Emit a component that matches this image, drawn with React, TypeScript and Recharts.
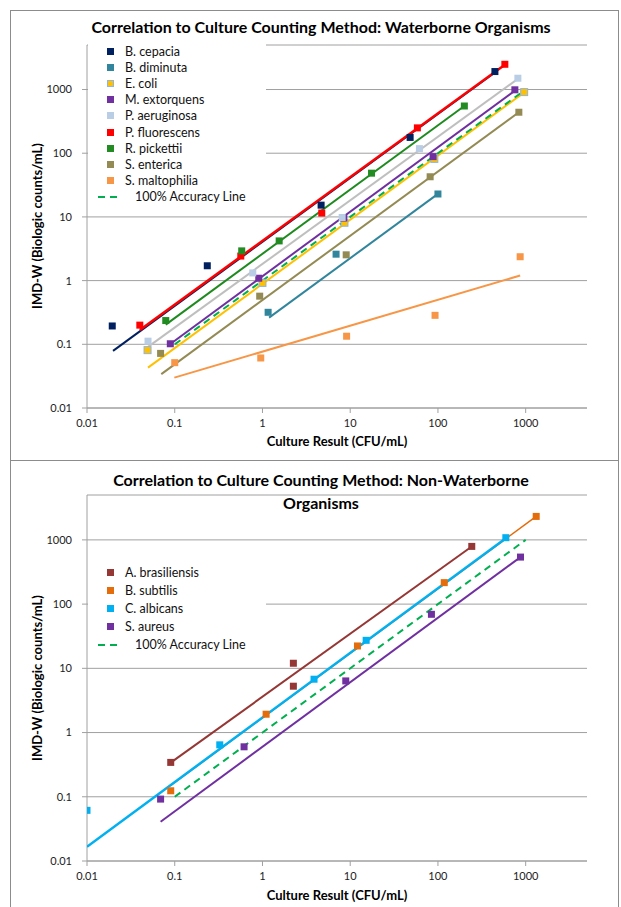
import React from 'react';
import { ScatterChart, Scatter, XAxis, YAxis, CartesianGrid, Legend } from 'recharts';

const xTicks = [0.01, 0.1, 1, 10, 100, 1000];
const yTicks = [0.01, 0.1, 1, 10, 100, 1000];

// Waterborne organisms: [culture CFU/mL, IMD-W counts/mL]
const bCepacia = [[0.0194, 0.194], [0.235, 1.71], [4.66, 15.3], [48.2, 177], [446, 1915]];
const bDiminuta = [[1.16, 0.318], [6.9, 2.6], [100, 22.9]];
const eColi = [[0.049, 0.081], [1.0, 0.92], [8.6, 8.1], [91, 81.5], [961, 911]];
const mExtorquens = [[0.089, 0.102], [0.907, 1.09], [8.45, 9.6], [88, 88.5], [753, 990]];
const pAeruginosa = [[0.0496, 0.112], [0.775, 1.32], [8.1, 9.8], [61.5, 118], [815, 1505]];
const pFluorescens = [[0.04, 0.2], [0.566, 2.43], [4.74, 11.5], [58.3, 250], [579, 2490]];
const rPickettii = [[0.079, 0.236], [0.58, 2.93], [1.55, 4.2], [17.5, 48.6], [200, 551]];
const sEnterica = [[0.069, 0.072], [0.93, 0.57], [9.0, 2.54], [81.5, 42.7], [836, 440]];
const sMaltophilia = [[0.1, 0.0515], [0.956, 0.061], [9.1, 0.134], [92.7, 0.285], [865, 2.37]];

// trendline ends as drawn in the source
const bCepaciaTrend = [[0.0198, 0.079], [446, 1850]];
const bDiminutaTrend = [[1.19, 0.262], [100, 23]];
const eColiTrend = [[0.0496, 0.043], [961, 900]];
const mExtorquensTrend = [[0.094, 0.107], [753, 960]];
const pAeruginosaTrend = [[0.0496, 0.091], [815, 1470]];
const pFluorescensTrend = [[0.04, 0.168], [579, 2450]];
const rPickettiiTrend = [[0.079, 0.204], [200, 551]];
const sEntericaTrend = [[0.0703, 0.034], [836, 440]];
const sMaltophiliaTrend = [[0.099, 0.03], [865, 1.2]];

// Non-waterborne organisms
const aBrasiliensis = [[0.09, 0.343], [2.25, 12.0], [2.25, 5.27], [243, 792]];
const bSubtilis = [[0.09, 0.124], [1.1, 1.93], [12.1, 22.3], [118, 216], [1318, 2320]];
const cAlbicans = [[0.01, 0.0615], [0.326, 0.644], [3.87, 6.77], [15.2, 27.3], [594, 1082]];
const sAureus = [[0.069, 0.092], [0.617, 0.6], [8.9, 6.37], [84.3, 69.4], [873, 540]];

const aBrasiliensisTrend = [[0.09, 0.34], [243, 790]];
const bSubtilisTrend = [[0.09, 0.15], [1318, 2320]];
const cAlbicansTrend = [[0.01, 0.0167], [594, 1060]];
const sAureusTrend = [[0.069, 0.0409], [873, 540]];

const accuracyLine = [[0.1, 0.1], [1000, 1000]];

const FONT = 'Lato, "Open Sans", sans-serif';
const GRID = '#a0a0a0';

type Series = {
  name: string;
  marker: string;
  markerStroke?: string;
  line: string;
  lineWidth: number;
  points: number[][];
  trend: number[][];
};

const waterborne: Series[] = [
  { name: 'B. cepacia', marker: '#002060', line: '#002060', lineWidth: 2, points: bCepacia, trend: bCepaciaTrend },
  { name: 'B. diminuta', marker: '#31859c', line: '#31859c', lineWidth: 2, points: bDiminuta, trend: bDiminutaTrend },
  { name: 'E. coli', marker: '#ffc000', markerStroke: '#8db4e2', line: '#ffc000', lineWidth: 2, points: eColi, trend: eColiTrend },
  { name: 'M. extorquens', marker: '#7030a0', line: '#7030a0', lineWidth: 2, points: mExtorquens, trend: mExtorquensTrend },
  { name: 'P. aeruginosa', marker: '#b9cde5', line: '#bfbfbf', lineWidth: 2, points: pAeruginosa, trend: pAeruginosaTrend },
  { name: 'P. fluorescens', marker: '#ff0000', line: '#ff0000', lineWidth: 2.5, points: pFluorescens, trend: pFluorescensTrend },
  { name: 'R. pickettii', marker: '#228b22', line: '#1f8a1f', lineWidth: 2, points: rPickettii, trend: rPickettiiTrend },
  { name: 'S. enterica', marker: '#948a54', line: '#948a54', lineWidth: 2, points: sEnterica, trend: sEntericaTrend },
  { name: 'S. maltophilia', marker: '#f79646', line: '#f79646', lineWidth: 2, points: sMaltophilia, trend: sMaltophiliaTrend },
];

const nonWaterborne: Series[] = [
  { name: 'A. brasiliensis', marker: '#953735', line: '#953735', lineWidth: 2, points: aBrasiliensis, trend: aBrasiliensisTrend },
  { name: 'B. subtilis', marker: '#e46c0a', line: '#e46c0a', lineWidth: 1.5, points: bSubtilis, trend: bSubtilisTrend },
  { name: 'C. albicans', marker: '#00b0f0', line: '#00b0f0', lineWidth: 2.5, points: cAlbicans, trend: cAlbicansTrend },
  { name: 'S. aureus', marker: '#7030a0', line: '#7030a0', lineWidth: 2, points: sAureus, trend: sAureusTrend },
];

const toXY = (arr: number[][]) => arr.map(([x, y]) => ({ x, y }));

const square = (fill: string, stroke?: string) => (props: any) => (
  <rect x={props.cx - 3.5} y={props.cy - 3.5} width={7} height={7} fill={fill} stroke={stroke || 'none'} strokeWidth={1} />
);

const noShape = () => <g />;

function LegendBox({ series, rowH, top, height }: { series: Series[]; rowH: number; top: number; height: number }) {
  return (
    <div style={{ position: 'absolute', left: 88, top, width: 178, height, background: '#fff', fontFamily: FONT, fontSize: 12.5, color: '#111' }}>
      {series.map((s) => (
        <div key={s.name} style={{ height: rowH, display: 'flex', alignItems: 'center' }}>
          <span style={{ display: 'inline-block', width: 7, height: 7, marginLeft: 18.5, marginRight: 11.5, background: s.marker, boxSizing: 'border-box', border: s.markerStroke ? `1px solid ${s.markerStroke}` : 'none' }} />
          <span>{s.name}</span>
        </div>
      ))}
      <div style={{ height: rowH, display: 'flex', alignItems: 'center' }}>
        <svg width={37} height={6} style={{ marginLeft: 10 }}>
          <line x1={0} y1={3} x2={22} y2={3} stroke="#00b050" strokeWidth={2} strokeDasharray="7 5" />
        </svg>
        <span>100% Accuracy Line</span>
      </div>
    </div>
  );
}

function CorrelationChart({ series, top, bottomMargin, legendTop, legendRow, legendH }: { series: Series[]; top: number; bottomMargin: number; legendTop: number; legendRow: number; legendH: number }) {
  return (
    <div style={{ position: 'absolute', left: 0, top, width: 621, height: 460 }}>
      <ScatterChart width={621} height={460} margin={{ top: 45, right: 34, bottom: bottomMargin, left: 0 }}>
        <CartesianGrid horizontal vertical={false} stroke={GRID} strokeWidth={1} />
        <XAxis
          type="number"
          dataKey="x"
          scale="log"
          domain={[0.01, 5000]}
          ticks={xTicks}
          allowDataOverflow
          height={30}
          axisLine={{ stroke: GRID }}
          tickLine={{ stroke: GRID }}
          tickSize={5}
          tickMargin={6}
          tickFormatter={(v: number) => String(v)}
          tick={{ fontFamily: FONT, fontSize: 11, fill: '#222' }}
        />
        <YAxis
          type="number"
          dataKey="y"
          scale="log"
          domain={[0.01, 5000]}
          ticks={yTicks}
          allowDataOverflow
          width={87}
          axisLine={{ stroke: GRID }}
          tickLine={{ stroke: GRID }}
          tickSize={5}
          tickMargin={10}
          tickFormatter={(v: number) => String(v)}
          tick={{ fontFamily: FONT, fontSize: 11, fill: '#222' }}
        />
        <Legend content={() => null} />
        {series.map((s) => (
          <Scatter
            key={s.name + '-trend'}
            data={toXY(s.trend)}
            line={{ stroke: s.line, strokeWidth: s.lineWidth }}
            lineType="joint"
            shape={noShape}
            legendType="none"
            isAnimationActive={false}
          />
        ))}
        <Scatter
          data={toXY(accuracyLine)}
          line={{ stroke: '#00b050', strokeWidth: 2, strokeDasharray: '7 5' }}
          lineType="joint"
          shape={noShape}
          legendType="none"
          isAnimationActive={false}
        />
        {series.map((s) => (
          <Scatter
            key={s.name}
            name={s.name}
            data={toXY(s.points)}
            shape={square(s.marker, s.markerStroke)}
            isAnimationActive={false}
          />
        ))}
      </ScatterChart>
      <LegendBox series={series} rowH={legendRow} top={legendTop} height={legendH} />
    </div>
  );
}

const titleStyle: React.CSSProperties = {
  position: 'absolute',
  left: 0,
  width: 642,
  textAlign: 'center',
  fontFamily: FONT,
  fontWeight: 700,
  fontSize: 16,
  color: '#000',
};

const axisLabel: React.CSSProperties = {
  position: 'absolute',
  fontFamily: FONT,
  fontWeight: 700,
  fontSize: 13,
  color: '#000',
  whiteSpace: 'nowrap',
};

export default function App() {
  return (
    <div style={{ position: 'absolute', left: 0, top: 0, width: 621, height: 907, background: '#fff', overflow: 'hidden' }}>
      <div style={{ position: 'absolute', left: 10, top: 10, width: 607, height: 449, border: '1px solid #8c8c8c' }} />
      <div style={{ position: 'absolute', left: 10, top: 460, width: 607, height: 460, border: '1px solid #8c8c8c' }} />

      <CorrelationChart series={waterborne} top={0} bottomMargin={22} legendTop={43} legendRow={16.2} legendH={163} />
      <CorrelationChart series={nonWaterborne} top={450} bottomMargin={19} legendTop={113} legendRow={18.2} legendH={92} />

      <div style={{ ...titleStyle, top: 17 }}>Correlation to Culture Counting Method: Waterborne Organisms</div>
      <div style={{ ...titleStyle, top: 468, lineHeight: '23px' }}>
        Correlation to Culture Counting Method: Non-Waterborne
        <br />
        Organisms
      </div>

      <div style={{ ...axisLabel, left: 337, top: 433, transform: 'translateX(-50%)' }}>Culture Result (CFU/mL)</div>
      <div style={{ ...axisLabel, left: 337, top: 887, transform: 'translateX(-50%)' }}>Culture Result (CFU/mL)</div>
      <div style={{ ...axisLabel, left: 37, top: 226, transform: 'translate(-50%, -50%) rotate(-90deg)' }}>IMD-W (Biologic counts/mL)</div>
      <div style={{ ...axisLabel, left: 37, top: 678, transform: 'translate(-50%, -50%) rotate(-90deg)' }}>IMD-W (Biologic counts/mL)</div>
    </div>
  );
}
